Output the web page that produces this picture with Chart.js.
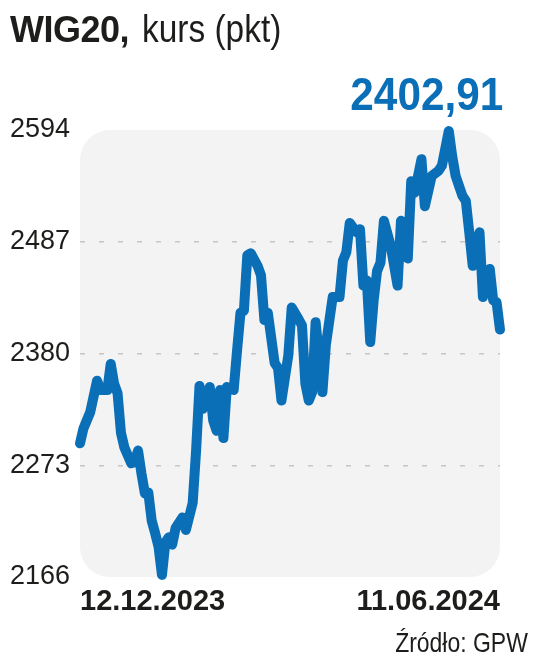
<!DOCTYPE html>
<html>
<head>
<meta charset="utf-8">
<script src="https://cdn.jsdelivr.net/npm/chart.js@4/dist/chart.umd.min.js"></script>
<style>
  html, body { margin: 0; padding: 0; background: #fff; }
  #wrap { position: relative; width: 536px; height: 659px; overflow: hidden; }
  #chart { position: absolute; left: 0; top: 0; }
  .txt { position: absolute; line-height: 1; white-space: nowrap; color: #1d1d1b; font-family: "Liberation Sans", sans-serif; }
  #title { left: 10px; top: 10px; font-size: 38px; }
  #title b { font-size: 36px; letter-spacing: -0.5px; }
  #title span { display: inline-block; transform: scaleX(0.88); transform-origin: left center; margin-left: 2px; }
  #last { right: 33px; top: 71px; font-weight: bold; font-size: 46px; color: #0a6fb7;
          transform: scaleX(0.92); transform-origin: right center; }
  #source { right: 8px; top: 629px; font-size: 28px; transform: scaleX(0.82); transform-origin: right center; }
</style>
</head>
<body>
<div id="wrap">
  <canvas id="chart" width="536" height="659"></canvas>
  <div class="txt" id="title"><b>WIG20,</b> <span>kurs (pkt)</span></div>
  <div class="txt" id="last">2402,91</div>
  <div class="txt" id="source">Źródło: GPW</div>
</div>
<script>
// sesje od 12.12.2023 (0) do 11.06.2024 (123)
const days = [
  0, 1, 3, 5, 6, 8, 9, 10, 11, 12, 13, 15, 16, 17, 18, 19, 20, 21, 22, 23,
  24, 25, 26, 27, 28, 30, 31, 33, 34, 35, 36, 38, 39, 40, 41, 42, 43, 45, 46, 47,
  48, 49, 50, 52, 53, 54, 55, 57, 58, 59, 61, 62, 64, 65, 66, 67, 68, 69, 71, 72,
  74, 76, 77, 78, 79, 81, 82, 83, 84, 85, 86, 87, 88, 89, 91, 93, 94, 95, 96, 97,
  98, 99, 100, 101, 103, 105, 106, 108, 109, 110, 112, 113, 114, 115, 116, 117, 118, 119, 120, 121,
  122, 123
];
const kurs = [
  2294, 2308, 2324, 2354, 2345, 2345, 2370, 2351, 2342, 2304, 2290, 2275, 2276, 2287, 2265, 2246, 2247, 2220, 2208, 2195,
  2168, 2199, 2204, 2197, 2213, 2223, 2211, 2237, 2287, 2349, 2327, 2348, 2316, 2306, 2345, 2299, 2348, 2345, 2383, 2419,
  2421, 2474, 2476, 2464, 2455, 2412, 2419, 2371, 2366, 2335, 2378, 2424, 2413, 2407, 2351, 2335, 2343, 2410, 2343, 2388,
  2434, 2434, 2469, 2477, 2505, 2496, 2499, 2445, 2450, 2391, 2431, 2459, 2467, 2507, 2483, 2445, 2507, 2505, 2471, 2545,
  2534, 2550, 2566, 2521, 2550, 2555, 2560, 2593, 2569, 2550, 2531, 2526, 2496, 2464, 2478, 2496, 2434, 2445, 2461, 2431,
  2429, 2402.91
];
const xLabels = ['12.12.2023', '11.06.2024'];
const yTicks = [2166, 2273, 2380, 2487, 2594];

const BLUE = '#0a6fb7';
const PANEL = '#f3f3f3';
const GRID = '#c6c6c6';
const TEXT = '#1d1d1b';

// rounded grey panel behind the plot area
const panelBg = {
  id: 'panelBg',
  beforeDraw(chart) {
    const { ctx, chartArea: a } = chart;
    ctx.save();
    ctx.fillStyle = PANEL;
    ctx.beginPath();
    ctx.roundRect(a.left, a.top, a.right - a.left, a.bottom - a.top, 30);
    ctx.fill();
    ctx.restore();
  },
};

new Chart(document.getElementById('chart'), {
  type: 'line',
  data: {
    datasets: [{
      data: days.map((d, i) => ({ x: d, y: kurs[i] })),
      borderColor: BLUE,
      borderWidth: 10,
      borderJoinStyle: 'round',
      borderCapStyle: 'round',
      pointRadius: 0,
      tension: 0,
      clip: false,
    }],
  },
  options: {
    responsive: false,
    animation: false,
    layout: { padding: { top: 130, right: 36, bottom: 32, left: 0 } },
    plugins: { legend: { display: false }, tooltip: { enabled: false } },
    scales: {
      x: {
        type: 'linear',
        min: days[0],
        max: days[days.length - 1],
        afterFit: s => { s.height = 50; },
        afterBuildTicks: s => { s.ticks = [{ value: days[0] }, { value: days[days.length - 1] }]; },
        grid: { display: false },
        border: { display: false },
        ticks: {
          align: 'inner',
          autoSkip: false,
          maxRotation: 0,
          padding: 0,
          color: TEXT,
          font: { family: '"Liberation Sans", sans-serif', size: 29, weight: 'bold' },
          callback: (v) => (v === days[0] ? xLabels[0] : xLabels[1]),
        },
      },
      y: {
        min: yTicks[0],
        max: yTicks[yTicks.length - 1],
        afterFit: s => { s.width = 80; },
        afterBuildTicks: s => { s.ticks = yTicks.map(v => ({ value: v })); },
        border: { display: false, dash: [5, 14] },
        grid: {
          drawTicks: false,
          lineWidth: 1.5,
          color: c => (c.tick && (c.tick.value === yTicks[0] || c.tick.value === yTicks[yTicks.length - 1]) ? 'rgba(0,0,0,0)' : GRID),
        },
        ticks: {
          padding: 10,
          color: TEXT,
          font: { family: '"Liberation Sans", sans-serif', size: 27 },
          callback: v => String(v),
        },
      },
    },
  },
  plugins: [panelBg],
});
</script>
</body>
</html>
